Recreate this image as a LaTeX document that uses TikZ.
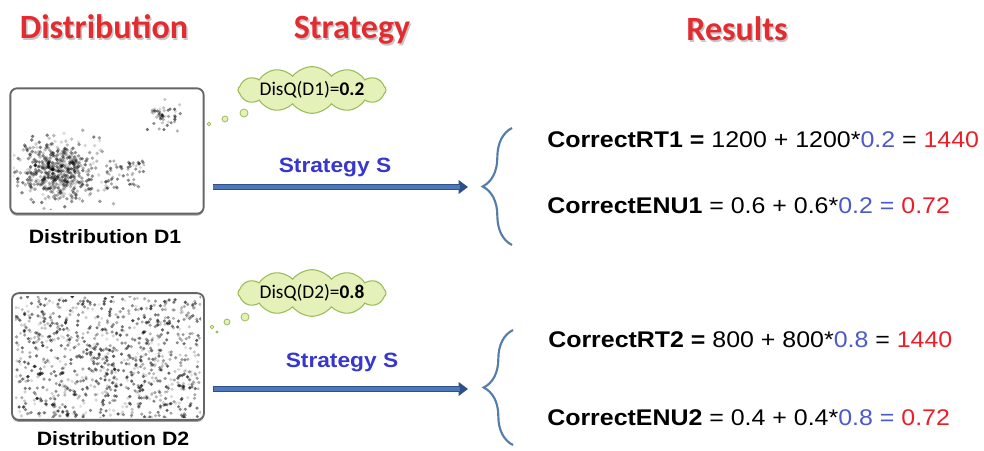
\documentclass[tikz,border=0pt]{standalone}
\usepackage{fontspec}
\setmainfont[FakeStretch=1.1]{Liberation Sans}
\newfontfamily\calibri{Carlito}
\usetikzlibrary{shapes.symbols,decorations.pathreplacing,shadows,arrows.meta}
\definecolor{titlered}{RGB}{225,45,50}
\definecolor{stratblue}{RGB}{55,55,205}
\definecolor{numblue}{RGB}{75,90,200}
\definecolor{numred}{RGB}{235,30,40}
\definecolor{bracecol}{RGB}{85,125,170}
\definecolor{arrowfill}{RGB}{75,120,185}
\definecolor{arrowedge}{RGB}{45,80,135}
\definecolor{cloudfill}{RGB}{228,241,185}
\definecolor{cloudedge}{RGB}{155,187,89}
\begin{document}
\begin{tikzpicture}[x=0.75pt,y=-0.75pt,
  title/.style={font=\calibri\bfseries\fontsize{25.5}{30}\selectfont, text=titlered, inner sep=0pt, anchor=base},
  titleshadow/.style={title, text=black!22},
  distbox/.style={draw=black!60, line width=1.4pt, rounded corners=5pt, fill=white, minimum width=145pt, minimum height=94pt, drop shadow={shadow xshift=0pt, shadow yshift=-1.5pt, fill=black!75}},
  distlabel/.style={font=\bfseries\fontsize{14.5}{17}\selectfont, inner sep=0pt, anchor=base},
  thought/.style={cloud, cloud puffs=12, cloud puff arc=105, aspect=4.2, draw=cloudedge, fill=cloudfill, line width=0.8pt, minimum width=111pt, minimum height=35pt, font=\calibri\fontsize{14.5}{17}\selectfont, inner xsep=-6pt, inner ysep=-6pt},
  bubble/.style={draw=cloudedge, fill=cloudfill, line width=0.6pt},
  stratlabel/.style={font=\bfseries\fontsize{15.5}{18}\selectfont, text=stratblue, inner sep=0pt, anchor=base},
  flow/.style={line width=4.6pt, draw=arrowedge, shorten <=6pt, -{Triangle[length=7pt,width=10pt]}},
  flowin/.style={line width=2.6pt, draw=arrowfill, shorten <=6.5pt, shorten >=6pt},
  curly/.style={draw=bracecol, line width=1.6pt, decorate, decoration={brace, amplitude=22pt}},
  formula/.style={font=\fontsize{17}{20}\selectfont, inner sep=0pt, anchor=base west}]
\useasboundingbox (0,0) rectangle (984,450);
\pgfmathsetseed{42}
% titles
\node[titleshadow] (t1s) at (105.5,40) {Distribution};\node[title] (t1) at (104,38) {Distribution};
\node[titleshadow] (t2s) at (353.5,40) {Strategy};\node[title] (t2) at (352,38) {Strategy};
\node[titleshadow] (t3s) at (738.5,42) {Results};\node[title] (t3) at (737,40) {Results};

% distribution D1
\node[distbox] (box1) at (107,151) {};
\node[distlabel] (lab1) at (105,243) {Distribution D1};
\begin{scope}
\clip (13,92) rectangle (201,209);
\foreach \i in {1,...,520}{
  \pgfmathsetmacro{\dx}{20*(rand+rand+rand)}\pgfmathsetmacro{\dy}{15*(rand+rand+rand)}\pgfmathsetmacro{\op}{0.12+0.42*rnd}
  \fill[black, opacity=\op] (58+\dx,170+\dy) circle (1.4pt);}
\foreach \i in {1,...,60}{
  \pgfmathsetmacro{\dx}{22*rand}\pgfmathsetmacro{\dy}{15*rand}\pgfmathsetmacro{\op}{0.15+0.4*rnd}
  \fill[black, opacity=\op] (124+\dx,175+\dy) circle (1.3pt);}
\foreach \i in {1,...,45}{
  \pgfmathsetmacro{\dx}{10*(rand+rand)}\pgfmathsetmacro{\dy}{9*(rand+rand)}\pgfmathsetmacro{\op}{0.15+0.45*rnd}
  \fill[black, opacity=\op] (165+\dx,115+\dy) circle (1.3pt);}
\end{scope}
\node[thought] (q1) at (312,90) {DisQ(D1)=\textbf{0.2}};
\draw[bubble] (244,113) circle (3pt);\draw[bubble] (225,119) circle (2.2pt);\draw[bubble] (209,124) circle (1.4pt);
\coordinate (tip1) at (468,187);
\draw[flow] (box1.east |- tip1) -- (tip1);\draw[flowin] (box1.east |- tip1) -- (tip1);
\node[stratlabel] (s1) at (335,172) {Strategy S};
\coordinate (br1a) at (512,245);\coordinate (br1b) at (512,128);
\draw[curly] (br1a) -- (br1b);
\node[formula] (rt1) at (547,147) {\textbf{CorrectRT1 =} 1200 + 1200*\textcolor{numblue}{0.2} = \textcolor{numred}{1440}};
\node[formula] (enu1) at (547,213) {\textbf{CorrectENU1} = 0.6 + 0.6*\textcolor{numblue}{0.2 =} \textcolor{numred}{0.72}};

% distribution D2
\node[distbox, minimum width=144pt, minimum height=95pt] (box2) at (108,356.5) {};
\node[distlabel] (lab2) at (113,445) {Distribution D2};
\begin{scope}
\clip (15,296) rectangle (201,417);
\foreach \i in {1,...,950}{
  \pgfmathsetmacro{\dx}{93*rand}\pgfmathsetmacro{\dy}{61*rand}\pgfmathsetmacro{\op}{0.1+0.55*rnd}
  \fill[black, opacity=\op] (108+\dx,357+\dy) circle (1.3pt);}
\end{scope}
\node[thought] (q2) at (312,293) {DisQ(D2)=\textbf{0.8}};
\draw[bubble] (245,317) circle (3pt);\draw[bubble] (227,322) circle (2.2pt);\draw[bubble] (212,327) circle (1.4pt);\draw[bubble] (217,332) circle (0.8pt);
\coordinate (tip2) at (468,389);
\draw[flow] (box2.east |- tip2) -- (tip2);\draw[flowin] (box2.east |- tip2) -- (tip2);
\node[stratlabel] (s2) at (342,367) {Strategy S};
\coordinate (br2a) at (513,445);\coordinate (br2b) at (513,330);
\draw[curly] (br2a) -- (br2b);
\node[formula] (rt2) at (548,347) {\textbf{CorrectRT2 =} 800 + 800*\textcolor{numblue}{0.8} = \textcolor{numred}{1440}};
\node[formula] (enu2) at (547,425) {\textbf{CorrectENU2} = 0.4 + 0.4*\textcolor{numblue}{0.8 =} \textcolor{numred}{0.72}};
\end{tikzpicture}
\end{document}
